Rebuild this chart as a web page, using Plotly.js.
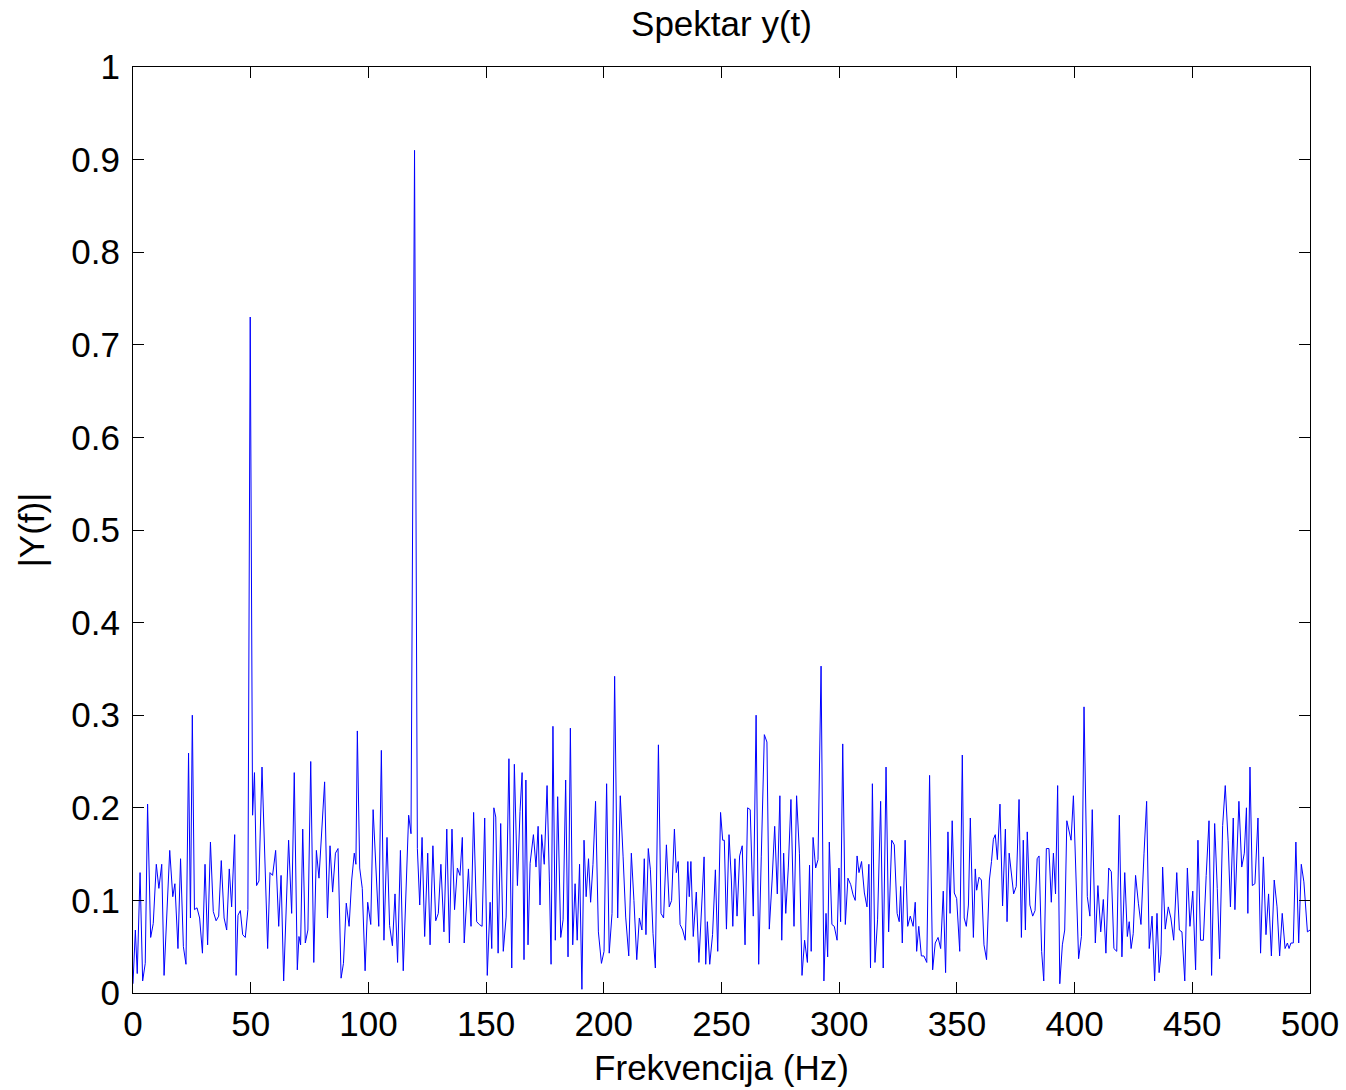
<!DOCTYPE html>
<html>
<head>
<meta charset="utf-8">
<script src="https://cdn.plot.ly/plotly-3.0.1.min.js"></script>
<style>html,body{margin:0;padding:0;background:#fff;}#chart{width:1346px;height:1090px;}</style>
</head>
<body>
<div id="chart"></div>
<script>
// Frequency (Hz) of each read vertex
const freqHz = [
0.0,1.0,1.8,3.0,4.1,5.2,6.2,7.5,8.6,9.9,11.0,12.2,13.2,15.6,16.9,17.8,19.1,20.2,21.4,22.5,23.6,24.4,25.2,26.1,27.2,28.3,29.5,30.6,31.7,32.9,34.1,35.3,36.4,37.5,38.7,39.8,40.9,
41.9,43.2,43.8,44.6,45.6,46.6,47.7,48.8,49.8,50.8,51.6,52.5,53.5,54.8,55.9,57.2,58.2,59.3,60.6,61.9,62.9,64.0,66.1,67.4,68.5,69.8,70.5,71.2,72.1,73.2,74.3,75.5,76.8,77.9,79.0,80.3,81.4,82.6,83.7,
84.8,86.0,87.1,88.4,89.4,90.6,91.8,92.9,94.0,94.7,95.3,96.3,97.4,98.6,99.7,101.0,102.0,103.2,104.4,105.5,106.6,107.9,109.0,110.2,111.3,112.4,113.6,114.8,117.1,118.1,119.6,120.8,121.8,122.8,123.9,125.2,
126.2,127.4,128.6,129.7,130.8,132.1,133.3,134.4,135.5,136.6,137.8,138.9,139.9,140.7,142.5,143.6,144.7,146.0,147.1,148.3,149.4,150.5,151.7,152.4,153.3,154.1,155.1,156.2,157.3,158.5,159.7,160.9,162.0,163.3,164.4,165.3,166.1,166.9,167.8,168.7,
170.1,171.2,172.1,172.9,173.6,174.7,175.9,176.9,177.6,178.4,179.4,180.4,181.7,182.7,183.8,184.8,185.8,186.8,187.8,188.7,189.7,190.7,191.6,192.5,193.5,194.4,195.4,196.5,197.7,199.0,200.1,201.2,202.3,203.5,204.6,205.9,207.0,208.2,209.3,210.6,
211.7,212.8,214.0,215.1,216.2,217.2,217.9,218.9,219.8,220.9,221.9,223.2,224.3,225.4,226.6,227.8,228.8,230.0,230.8,231.6,232.4,233.5,234.6,235.7,236.3,237.0,238.0,239.3,240.4,242.6,243.3,244.0,245.0,246.2,247.4,248.4,249.6,250.5,251.2,252.1,253.2,
254.2,254.8,255.7,256.6,257.7,258.8,260.0,261.1,262.2,263.5,264.7,265.8,266.9,268.2,269.3,270.3,271.5,272.6,273.7,274.8,275.6,276.4,277.3,278.4,279.5,280.8,281.9,283.1,284.2,285.3,286.5,287.4,288.1,288.9,290.0,291.0,292.3,293.5,294.4,295.1,295.8,
296.9,297.9,299.1,299.9,300.6,301.5,302.6,303.7,304.9,305.9,306.8,307.6,308.4,309.5,310.7,311.8,312.6,313.3,314.1,315.2,316.3,317.6,318.7,319.9,321.0,322.3,323.4,324.6,325.5,326.1,326.8,328.0,329.1,330.2,331.4,332.3,332.9,333.8,334.9,336.0,337.2,338.4,
339.7,340.8,342.0,343.1,344.2,345.2,346.2,347.1,348.0,348.9,349.9,351.2,352.3,353.1,354.0,354.9,355.7,357.0,357.8,358.4,359.4,360.4,361.5,362.6,363.8,364.7,365.5,366.3,367.2,368.3,369.4,370.6,371.3,372.2,373.0,374.1,375.2,376.4,377.4,378.2,379.1,379.9,381.0,
382.2,383.2,384.1,384.9,386.0,386.9,388.0,389.1,390.1,391.0,391.9,392.8,393.7,394.8,395.8,396.7,397.6,398.5,399.5,400.6,401.7,402.9,404.0,405.4,406.5,407.5,408.8,409.9,411.1,412.2,413.3,414.5,415.6,416.7,417.9,419.0,420.1,421.3,422.4,423.2,
424.0,424.9,425.9,427.1,428.2,429.5,430.6,431.7,432.9,434.0,435.0,435.9,436.7,437.4,438.5,439.8,440.9,442.1,443.4,444.5,445.6,446.8,447.9,449.0,450.2,451.4,452.4,453.5,454.7,455.9,457.1,458.2,459.5,460.6,461.6,462.9,464.0,465.2,466.2,
467.4,468.1,469.8,471.0,472.1,473.0,473.6,474.5,475.5,476.6,477.9,479.0,480.2,481.3,482.4,483.6,484.8,486.0,487.1,488.2,489.4,490.4,491.1,491.9,492.9,494.0,495.2,496.3,497.4,498.9,500.0
];
// Magnitude |Y(f)| at each vertex
const magnitude = [
0.010,0.068,0.021,0.130,0.013,0.032,0.204,0.060,0.075,0.139,0.113,0.139,0.019,0.154,0.104,0.118,0.048,0.145,0.050,0.031,0.259,0.081,0.300,0.090,0.092,0.081,0.043,0.139,0.052,0.163,0.088,0.078,0.083,0.143,0.081,0.068,0.134,
0.093,0.171,0.019,0.084,0.089,0.063,0.060,0.090,0.730,0.192,0.238,0.116,0.121,0.244,0.151,0.048,0.130,0.127,0.154,0.072,0.127,0.013,0.165,0.086,0.238,0.025,0.061,0.052,0.177,0.054,0.068,0.250,0.033,0.154,0.124,0.180,0.228,0.081,0.159,
0.109,0.151,0.156,0.016,0.032,0.097,0.072,0.122,0.151,0.139,0.283,0.135,0.113,0.024,0.098,0.074,0.198,0.129,0.072,0.262,0.057,0.168,0.073,0.051,0.107,0.033,0.154,0.024,0.192,0.172,0.910,0.156,0.095,0.168,0.061,0.151,
0.052,0.159,0.078,0.086,0.139,0.066,0.177,0.054,0.177,0.090,0.135,0.127,0.168,0.054,0.134,0.072,0.195,0.077,0.074,0.072,0.189,0.019,0.098,0.048,0.200,0.190,0.043,0.183,0.045,0.082,0.253,0.027,0.247,0.116,0.196,0.238,0.036,0.230,0.052,0.140,
0.171,0.136,0.180,0.095,0.171,0.139,0.224,0.120,0.031,0.288,0.057,0.212,0.060,0.079,0.230,0.039,0.286,0.052,0.118,0.057,0.139,0.004,0.165,0.104,0.145,0.098,0.139,0.207,0.066,0.032,0.045,0.226,0.043,0.086,0.342,0.081,0.213,0.147,0.082,0.040,
0.151,0.100,0.036,0.081,0.068,0.145,0.063,0.156,0.133,0.064,0.027,0.268,0.086,0.081,0.160,0.093,0.100,0.177,0.130,0.142,0.074,0.068,0.057,0.142,0.104,0.142,0.061,0.109,0.033,0.147,0.031,0.077,0.031,0.063,0.133,0.045,0.195,0.165,0.165,0.069,0.171,
0.122,0.072,0.145,0.083,0.148,0.159,0.052,0.200,0.198,0.083,0.300,0.031,0.147,0.279,0.271,0.069,0.122,0.180,0.107,0.213,0.057,0.151,0.086,0.136,0.209,0.072,0.213,0.151,0.019,0.057,0.033,0.138,0.045,0.168,0.135,0.144,0.353,0.013,0.086,0.039,0.163,
0.074,0.072,0.057,0.135,0.077,0.269,0.074,0.124,0.117,0.106,0.100,0.148,0.130,0.142,0.108,0.093,0.139,0.027,0.226,0.033,0.079,0.207,0.027,0.244,0.066,0.165,0.160,0.086,0.077,0.115,0.054,0.165,0.072,0.083,0.072,0.098,0.045,0.072,0.040,0.040,0.033,0.235,
0.025,0.054,0.060,0.048,0.110,0.022,0.174,0.086,0.186,0.108,0.102,0.045,0.257,0.081,0.072,0.095,0.189,0.060,0.134,0.111,0.125,0.122,0.052,0.036,0.122,0.142,0.166,0.171,0.144,0.204,0.094,0.177,0.077,0.151,0.130,0.107,0.115,0.209,0.060,0.165,0.068,0.174,0.095,
0.083,0.089,0.145,0.148,0.045,0.013,0.156,0.156,0.098,0.151,0.107,0.224,0.010,0.052,0.068,0.186,0.176,0.165,0.213,0.129,0.037,0.061,0.309,0.104,0.083,0.198,0.054,0.116,0.066,0.101,0.043,0.135,0.131,0.048,0.045,0.192,0.039,0.130,0.061,0.077,
0.048,0.064,0.127,0.097,0.074,0.151,0.207,0.048,0.083,0.013,0.086,0.022,0.042,0.136,0.069,0.093,0.081,0.057,0.130,0.068,0.066,0.013,0.135,0.072,0.110,0.025,0.165,0.057,0.057,0.127,0.186,0.019,0.183,0.113,0.037,0.181,0.224,0.165,0.093,
0.189,0.090,0.207,0.136,0.151,0.200,0.086,0.244,0.116,0.118,0.189,0.043,0.147,0.063,0.107,0.040,0.122,0.093,0.040,0.086,0.048,0.054,0.048,0.054,0.054,0.163,0.054,0.139,0.120,0.066,0.068
];
const xTickVals = [0,50,100,150,200,250,300,350,400,450,500];
const xTickText = ['0','50','100','150','200','250','300','350','400','450','500'];
const yTickVals = [0,0.1,0.2,0.3,0.4,0.5,0.6,0.7,0.8,0.9,1];
const yTickText = ['0','0.1','0.2','0.3','0.4','0.5','0.6','0.7','0.8','0.9','1'];

const FONT = 'Liberation Sans, Arial, Helvetica, sans-serif';
const FS = 35;

const trace = {
  x: freqHz, y: magnitude, type: 'scatter', mode: 'lines',
  line: {color: '#0000ff', width: 1}, hoverinfo: 'skip'
};

const axisCommon = {
  showgrid: false, zeroline: false, showline: true, linecolor: '#000', linewidth: 1,
  mirror: 'ticks', ticks: 'inside', ticklen: 11, tickwidth: 1, tickcolor: '#000',
  tickfont: {family: FONT, size: FS, color: '#000'}, fixedrange: true
};

const layout = {
  width: 1346, height: 1090,
  margin: {l: 133, r: 36, t: 67, b: 97, pad: 0},
  paper_bgcolor: '#fff', plot_bgcolor: '#fff',
  showlegend: false,
  font: {family: FONT, size: FS, color: '#000'},
  title: {text: 'Spektar y(t)', font: {family: FONT, size: FS, color: '#000'},
          xref: 'paper', x: 0.5, xanchor: 'center', yref: 'container', y: 0.978, yanchor: 'middle'},
  xaxis: Object.assign({}, axisCommon, {
    range: [0, 500], tickmode: 'array', tickvals: xTickVals, ticktext: xTickText,
    ticklabelstandoff: 0,
    title: {text: 'Frekvencija (Hz)', font: {family: FONT, size: FS, color: '#000'}, standoff: 13}
  }),
  yaxis: Object.assign({}, axisCommon, {
    range: [0, 1], tickmode: 'array', tickvals: yTickVals, ticktext: yTickText,
    ticklabelstandoff: 5,
    title: {text: '|Y(f)|', font: {family: FONT, size: FS, color: '#000'}, standoff: 16}
  })
};

Plotly.newPlot('chart', [trace], layout, {displayModeBar: false, staticPlot: true});
</script>
</body>
</html>
